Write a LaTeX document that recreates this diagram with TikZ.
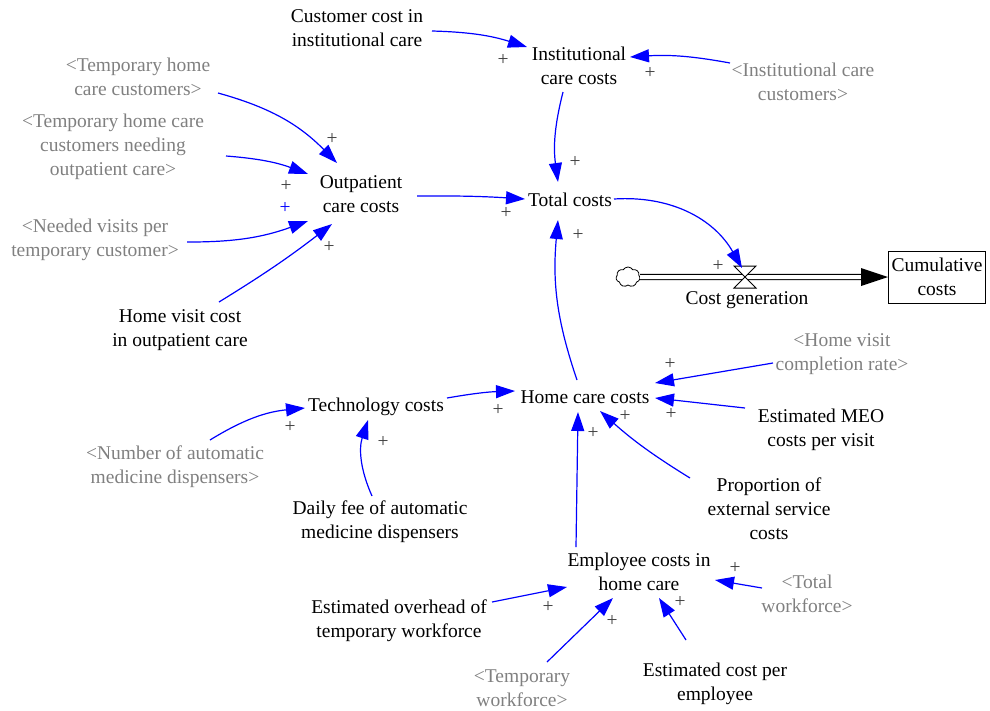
\documentclass[tikz,border=0pt]{standalone}
\usepackage{fontspec}
\setmainfont{Liberation Serif}
\usetikzlibrary{arrows.meta,calc,shapes.symbols}
\definecolor{linkblue}{RGB}{0,0,255}
\definecolor{shadowgray}{RGB}{128,128,128}
\definecolor{polgray}{RGB}{64,64,64}

\begin{document}
\begin{tikzpicture}[x=1pt,y=-1pt,
  every node/.style={font=\fontsize{19.5}{24}\selectfont, inner sep=0pt, align=center},
  var/.style={text=black},
  shadow/.style={text=shadowgray},
  pol/.style={text=polgray},
  link/.style={draw=linkblue, line width=1.2pt, -{Triangle[length=19pt,width=13pt]}},
]
\useasboundingbox (0,0) rectangle (990,710);

% ---------- variables ----------
\node[var]    (cust)     at (357,28)  {Customer cost in\\institutional care};
\node[var]    (inst)     at (579,66)  {Institutional\\care costs};
\node[shadow] (instcust) at (803,82)  {<Institutional care\\customers>};
\node[shadow] (thcc)     at (138,77)  {<Temporary home\\care customers>};
\node[shadow] (thccn)    at (113,147) {<Temporary home care\\customers needing\\outpatient care>};
\node[var]    (outp)     at (361,194) {Outpatient\\care costs};
\node[var]    (total)    at (570,200) {Total costs};
\node[shadow] (needed)   at (95,240)  {<Needed visits per\\temporary customer>};
\node[var]    (hvc)      at (180,330) {Home visit cost\\in outpatient care};
\node[shadow] (hvcr)     at (842,354) {<Home visit\\completion rate>};
\node[var]    (home)     at (585,397) {Home care costs};
\node[var]    (tech)     at (376,407) {Technology costs};
\node[var]    (meo)      at (821,430) {Estimated MEO\\costs per visit};
\node[shadow] (numauto)  at (175,467) {<Number of automatic\\medicine dispensers>};
\node[var]    (daily)    at (380,522) {Daily fee of automatic\\medicine dispensers};
\node[var]    (prop)     at (769,509) {Proportion of\\external service\\costs};
\node[var]    (emp)      at (639,572) {Employee costs in\\home care};
\node[shadow] (totwf)    at (807,594) {<Total\\workforce>};
\node[var]    (overhead) at (399,621) {Estimated overhead of\\temporary workforce};
\node[shadow] (tempwf)   at (522,688) {<Temporary\\workforce>};
\node[var]    (estcost)  at (715,684) {Estimated cost per\\employee};

% ---------- stock and flow ----------
\node[cloud, draw, cloud puffs=7, cloud puff arc=120, line width=0.8pt,
      minimum width=24pt, minimum height=20pt] (cloud) at (628,277) {};
\node[draw, line width=1pt, minimum width=97pt, minimum height=52pt]
      (stock) at (937,277) {Cumulative\\costs};
\draw[line width=1.1pt, double distance=4pt] (cloud.east) -- ([xshift=-26pt]stock.west);
\fill (stock.west) -- ++(-27,-9) -- ++(0,18) -- cycle;
\coordinate (valve) at (745,277);
\draw[fill=white, line width=1pt]
  ([shift={(-11,-11)}]valve) -- ([shift={(11,-11)}]valve) --
  ([shift={(-11,11)}]valve) -- ([shift={(11,11)}]valve) -- cycle;
\node[var] (flowlabel) at (747,300) {Cost generation};

% ---------- causal links ----------
\draw[link] ([shift={(75,3)}]cust.center)       to[bend left=8]   ([shift={(-52,-19)}]inst.center);
\draw[link] ([shift={(-73,-19)}]instcust.center) to[bend right=7]  ([shift={(51,-9)}]inst.center);
\draw[link] ([shift={(-16,26)}]inst.center)      to[bend right=11] ([shift={(-12,-18)}]total.center);
\draw[link] ([shift={(80,16)}]thcc.center)       to[bend left=15]  ([shift={(-24,-31)}]outp.center);
\draw[link] ([shift={(113,9)}]thccn.center)      to[bend left=8]   ([shift={(-53,-20)}]outp.center);
\draw[link] ([shift={(92,2)}]needed.center)      to[bend right=10] ([shift={(-53,27)}]outp.center);
\draw[link] ([shift={(39,-28)}]hvc.center)       to[bend right=3]  ([shift={(-29,30)}]outp.center);
\draw[link] ([shift={(56,2)}]outp.center)        to[bend left=2]   ([shift={(-45,-1)}]total.center);
\draw[link] ([shift={(-8,-17)}]home.center)      to[bend left=12]  ([shift={(-12,20)}]total.center);
\draw[link] ([shift={(44,-1)}]total.center)      to[bend left=32]  ([shift={(-3,-9)}]valve);
\draw[link] ([shift={(71,-9)}]tech.center)       to[bend left=4]   ([shift={(-70,-6)}]home.center);
\draw[link] ([shift={(35,-27)}]numauto.center)   to[bend left=13]  ([shift={(-71,1)}]tech.center);
\draw[link] ([shift={(-8,-26)}]daily.center)     to[bend left=21]  ([shift={(-8,13)}]tech.center);
\draw[link] ([shift={(-69,9)}]hvcr.center)       --                ([shift={(70,-14)}]home.center);
\draw[link] ([shift={(-76,-22)}]meo.center)      --                ([shift={(70,1)}]home.center);
\draw[link] ([shift={(-79,-31)}]prop.center)     to[bend left=5]   ([shift={(15,14)}]home.center);
\draw[link] ([shift={(-63,-25)}]emp.center)      --                ([shift={(-7,15)}]home.center);
\draw[link] ([shift={(93,-19)}]overhead.center)  --                ([shift={(-72,15)}]emp.center);
\draw[link] ([shift={(25,-26)}]tempwf.center)    --                ([shift={(-26,26)}]emp.center);
\draw[link] ([shift={(-29,-44)}]estcost.center)  --                ([shift={(20,26)}]emp.center);
\draw[link] ([shift={(-45,-6)}]totwf.center)     --                ([shift={(76,8)}]emp.center);

% ---------- polarity signs ----------
\node[pol] (p1)  at (503,60)  {+};
\node[pol] (p2)  at (650,73)  {+};
\node[pol] (p3)  at (575,162) {+};
\node[pol] (p4)  at (332,139) {+};
\node[pol] (p5)  at (286,186) {+};
\node[text=linkblue] (p6) at (285,208) {+};
\node[pol] (p7)  at (329,247) {+};
\node[pol] (p8)  at (506,213) {+};
\node[pol] (p9)  at (578,235) {+};
\node[pol] (p10) at (718,266) {+};
\node[pol] (p11) at (498,410) {+};
\node[pol] (p12) at (290,427) {+};
\node[pol] (p13) at (383,442) {+};
\node[pol] (p14) at (670,364) {+};
\node[pol] (p15) at (671,414) {+};
\node[pol] (p16) at (625,416) {+};
\node[pol] (p17) at (593,433) {+};
\node[pol] (p18) at (548,607) {+};
\node[pol] (p19) at (612,621) {+};
\node[pol] (p20) at (680,602) {+};
\node[pol] (p21) at (735,568) {+};
\end{tikzpicture}
\end{document}
